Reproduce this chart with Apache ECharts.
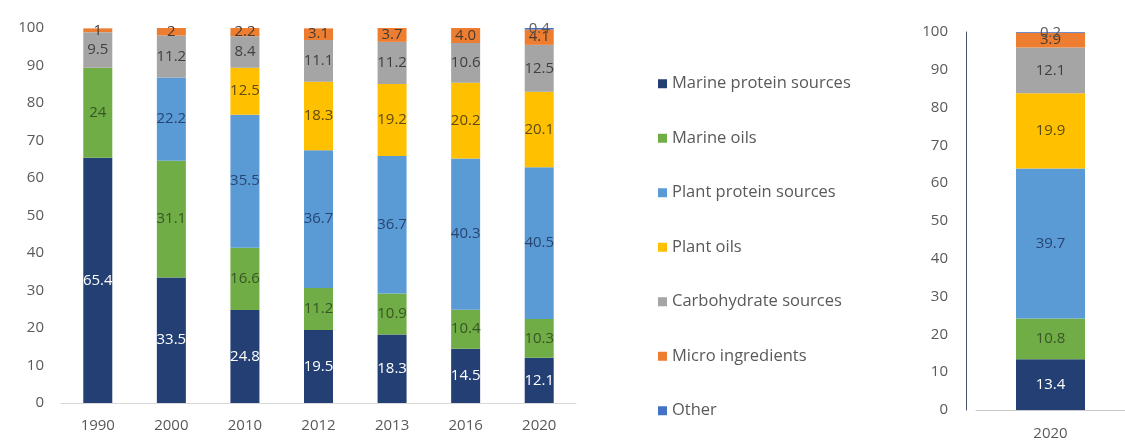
<!DOCTYPE html>
<html>
<head>
<meta charset="utf-8">
<script src="https://cdn.jsdelivr.net/npm/echarts@6/dist/echarts.min.js"></script>
<style>html,body{margin:0;padding:0;background:#fff;}#c{width:1125px;height:441px;}</style>
</head>
<body>
<div id="c"></div>
<script>
// ---- data ----
var years = ['1990', '2000', '2010', '2012', '2013', '2016', '2020'];
var rightCategory = ['2020'];
var yTicks = [0, 10, 20, 30, 40, 50, 60, 70, 80, 90, 100];

var seriesNames = ['Marine protein sources', 'Marine oils', 'Plant protein sources', 'Plant oils', 'Carbohydrate sources', 'Micro ingredients', 'Other'];

var marineProtein = [65.4, 33.5, 24.8, 19.5, 18.3, 14.5, 12.1];
var marineOils    = [24, 31.1, 16.6, 11.2, 10.9, 10.4, 10.3];
var plantProtein  = [null, 22.2, 35.5, 36.7, 36.7, 40.3, 40.5];
var plantOils     = [null, null, 12.5, 18.3, 19.2, 20.2, 20.1];
var carbohydrate  = [9.5, 11.2, 8.4, 11.1, 11.2, 10.6, 12.5];
var microIngr     = ['1', '2', '2.2', '3.1', '3.7', '4.0', '4.1'];
var other         = [null, null, null, null, null, null, 0.4];

// right panel (2020 projection), same series order
var right2020 = [13.4, 10.8, 39.7, 19.9, 12.1, 3.9, 0.2];

// ---- styles ----
var colors = ['#233F74', '#70AD47', '#5B9BD5', '#FFC000', '#A5A5A5', '#ED7D31', '#4472C4'];
var labelColors = ['#ffffff', '#375623', '#274573', '#5e4b10', '#404040', '#4a3a30', '#595959'];
var FONT = 'Open Sans';

var leftData = [marineProtein, marineOils, plantProtein, plantOils, carbohydrate, microIngr, other];

var series = [];
seriesNames.forEach(function (name, i) {
  var arr = leftData[i];
  series.push({
    name: name, type: 'bar', stack: 'L', xAxisIndex: 0, yAxisIndex: 0,
    barWidth: 29,
    data: arr.map(function (v) { return v === null ? null : Number(v); }),
    itemStyle: { color: colors[i] },
    label: {
      show: true, position: 'inside', color: labelColors[i],
      fontFamily: FONT, fontSize: 15,
      formatter: function (p) { var v = arr[p.dataIndex]; return v === null ? '' : String(v); }
    },
    emphasis: { disabled: true }
  });
});
seriesNames.forEach(function (name, i) {
  series.push({
    name: name, type: 'bar', stack: 'R', xAxisIndex: 1, yAxisIndex: 1,
    barWidth: 69,
    data: [right2020[i]],
    itemStyle: { color: colors[i] },
    label: {
      show: true, position: 'inside', color: labelColors[i],
      fontFamily: FONT, fontSize: 15
    },
    emphasis: { disabled: true }
  });
});

var axisLabelStyle = { color: '#595959', fontFamily: FONT, fontSize: 15 };

var chart = echarts.init(document.getElementById('c'));
chart.setOption({
  animation: false,
  backgroundColor: '#ffffff',
  legend: {
    orient: 'vertical', left: 653, top: 70,
    itemWidth: 9, itemHeight: 9, itemGap: 37, icon: 'rect',
    textStyle: { color: '#595959', fontFamily: FONT, fontSize: 16.5, lineHeight: 17.5 },
    data: seriesNames
  },
  grid: [
    { left: 61, right: 549, top: 28, bottom: 38 },
    { left: 976, width: 149, top: 32, bottom: 29 }
  ],
  xAxis: [
    { type: 'category', gridIndex: 0, data: years,
      axisLine: { lineStyle: { color: '#d9d9d9' } }, axisTick: { show: false },
      axisLabel: Object.assign({ margin: 15 }, axisLabelStyle) },
    { type: 'category', gridIndex: 1, data: rightCategory,
      axisLine: { lineStyle: { color: '#c8c8c8' } }, axisTick: { show: false },
      axisLabel: Object.assign({ margin: 16 }, axisLabelStyle) }
  ],
  yAxis: [
    { type: 'value', gridIndex: 0, min: yTicks[0], max: yTicks[yTicks.length - 1], interval: 10,
      axisLine: { show: false }, axisTick: { show: false }, splitLine: { show: false },
      axisLabel: Object.assign({ margin: 17 }, axisLabelStyle) },
    { type: 'value', gridIndex: 1, offset: 10, min: yTicks[0], max: yTicks[yTicks.length - 1], interval: 10,
      axisLine: { show: true, lineStyle: { color: '#44546A' } }, axisTick: { show: false }, splitLine: { show: false },
      axisLabel: Object.assign({ margin: 18 }, axisLabelStyle) }
  ],
  series: series
});
</script>
</body>
</html>
